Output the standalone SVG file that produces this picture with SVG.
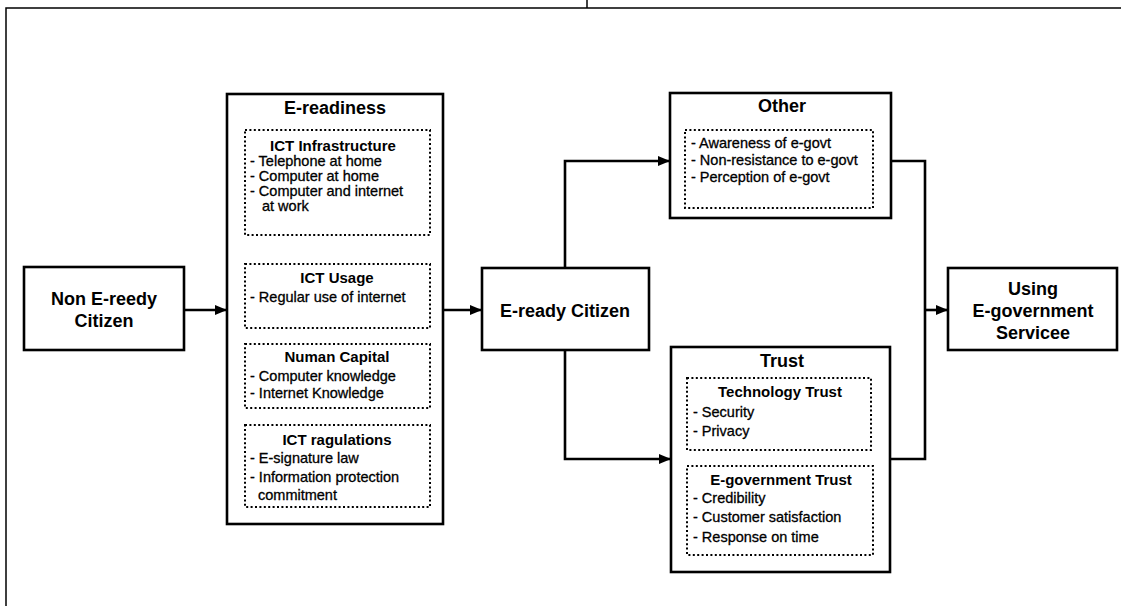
<svg xmlns="http://www.w3.org/2000/svg" width="1121" height="606" viewBox="0 0 1121 606">
  <style>
    .frame { fill: none; stroke: #000; stroke-width: 1.5; }
    .box { fill: #fff; stroke: #000; stroke-width: 2.6; }
    .dotbox { fill: none; stroke: #000; stroke-width: 2; stroke-dasharray: 2 2.4; }
    .link { fill: none; stroke: #000; stroke-width: 2.6; }
    text { font-family: "Liberation Sans", Arial, sans-serif; fill: #000; }
    .big { font-size: 18px; font-weight: bold; text-anchor: middle; }
    .sub { font-size: 15px; font-weight: bold; text-anchor: middle; }
    .item { font-size: 14.5px; stroke: #000; stroke-width: 0.3; }
  </style>
  <defs>
    <marker id="arrow" viewBox="0 0 12 10" refX="12" refY="5" markerWidth="12" markerHeight="10" markerUnits="userSpaceOnUse" orient="auto">
      <path d="M0,0 L12,5 L0,10 Z" fill="#000"/>
    </marker>
  </defs>

  <rect width="1121" height="606" fill="#fff"/>

  <!-- outer frame, open to the right and bottom -->
  <path class="frame" d="M6,606 V8 H1121"/>
  <path class="frame" d="M587,0 V8"/>

  <!-- connectors -->
  <g id="connectors">
    <path class="link" d="M184,310 H227" marker-end="url(#arrow)"/>
    <path class="link" d="M443,310 H482" marker-end="url(#arrow)"/>
    <path class="link" d="M565,268 V161 H670" marker-end="url(#arrow)"/>
    <path class="link" d="M565,350 V459 H671" marker-end="url(#arrow)"/>
    <path class="link" d="M891,161 H925 V459 H890"/>
    <path class="link" d="M925,310 H948" marker-end="url(#arrow)"/>
  </g>

  <g id="non-ready">
    <rect class="box" x="24" y="267" width="160" height="83"/>
    <text class="big" x="104" y="304.5">Non E-reedy</text>
    <text class="big" x="104" y="326.5">Citizen</text>
  </g>

  <g id="e-readiness">
    <rect class="box" x="227" y="94" width="216" height="430"/>
    <text class="big" x="335" y="114">E-readiness</text>

    <g id="ict-infrastructure">
      <rect class="dotbox" x="245" y="130" width="185" height="105"/>
      <text class="sub" x="333" y="151">ICT Infrastructure</text>
      <text class="item" x="250" y="166">- Telephone at home</text>
      <text class="item" x="250" y="181">- Computer at home</text>
      <text class="item" x="250" y="196">- Computer and internet</text>
      <text class="item" x="262" y="211">at work</text>
    </g>

    <g id="ict-usage">
      <rect class="dotbox" x="245" y="264" width="185" height="64"/>
      <text class="sub" x="337" y="283">ICT Usage</text>
      <text class="item" x="250" y="302">- Regular use of internet</text>
    </g>

    <g id="human-capital">
      <rect class="dotbox" x="245" y="344" width="185" height="64"/>
      <text class="sub" x="337" y="362">Numan Capital</text>
      <text class="item" x="250" y="381">- Computer knowledge</text>
      <text class="item" x="250" y="398">- Internet Knowledge</text>
    </g>

    <g id="ict-regulations">
      <rect class="dotbox" x="245" y="425" width="185" height="82"/>
      <text class="sub" x="337" y="445">ICT ragulations</text>
      <text class="item" x="250" y="463">- E-signature law</text>
      <text class="item" x="250" y="482">- Information protection</text>
      <text class="item" x="258" y="500">commitment</text>
    </g>
  </g>

  <g id="e-ready">
    <rect class="box" x="482" y="268" width="167" height="82"/>
    <text class="big" x="565" y="316.5">E-ready Citizen</text>
  </g>

  <g id="other">
    <rect class="box" x="670" y="93" width="221" height="125"/>
    <text class="big" x="782" y="111.5">Other</text>
    <rect class="dotbox" x="685" y="130" width="188" height="78"/>
    <text class="item" x="691" y="148">- Awareness of e-govt</text>
    <text class="item" x="691" y="165">- Non-resistance to e-govt</text>
    <text class="item" x="691" y="182">- Perception of e-govt</text>
  </g>

  <g id="trust">
    <rect class="box" x="671" y="347" width="219" height="225"/>
    <text class="big" x="782" y="366.5">Trust</text>

    <g id="technology-trust">
      <rect class="dotbox" x="687" y="378" width="184" height="72"/>
      <text class="sub" x="780" y="397">Technology Trust</text>
      <text class="item" x="693" y="417">- Security</text>
      <text class="item" x="693" y="436">- Privacy</text>
    </g>

    <g id="egov-trust">
      <rect class="dotbox" x="687" y="466" width="186" height="89"/>
      <text class="sub" x="781" y="485">E-government Trust</text>
      <text class="item" x="693" y="503">- Credibility</text>
      <text class="item" x="693" y="522">- Customer satisfaction</text>
      <text class="item" x="693" y="542">- Response on time</text>
    </g>
  </g>

  <g id="using">
    <rect class="box" x="948" y="268" width="169" height="82"/>
    <text class="big" x="1033" y="294.5">Using</text>
    <text class="big" x="1033" y="316.5">E-government</text>
    <text class="big" x="1033" y="338.5">Servicee</text>
  </g>
</svg>
